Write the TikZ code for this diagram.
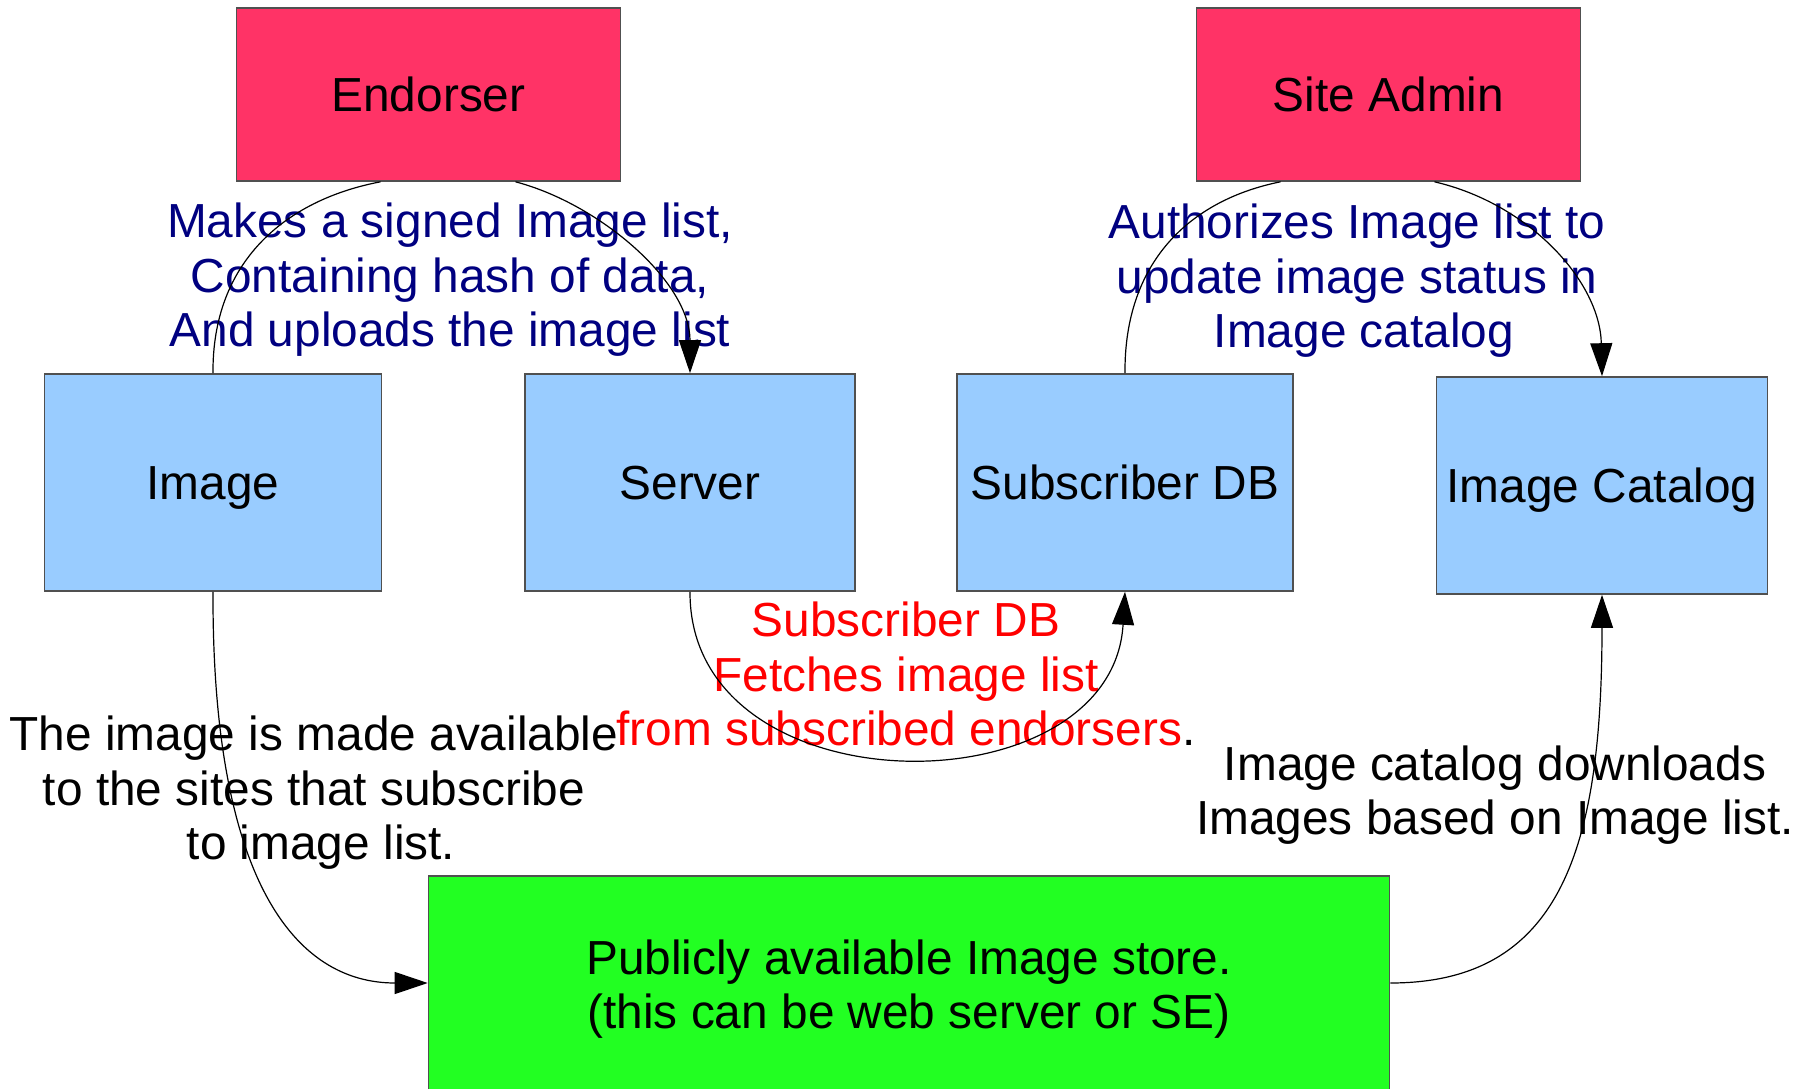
\documentclass[tikz,border=0pt]{standalone}
\usepackage{fontspec}
\setmainfont{Liberation Sans}
\usetikzlibrary{arrows.meta}

\definecolor{actorpink}{HTML}{FF3366}
\definecolor{partblue}{HTML}{99CCFF}
\definecolor{storegreen}{HTML}{22FF22}
\definecolor{edgegray}{HTML}{505050}
\definecolor{notenavy}{HTML}{000080}
\definecolor{notered}{HTML}{FF0000}

\tikzset{
  box/.style={draw=edgegray, line width=1.6pt, inner sep=0pt,
    font=\fontsize{47.8}{54.5}\selectfont, text height=34pt, text depth=0pt},
  actor/.style={box, fill=actorpink, minimum width=384pt, minimum height=173pt},
  part/.style={box, fill=partblue, minimum height=217pt},
  note/.style={inner sep=0pt, align=center, font=\fontsize{47.8}{54.5}\selectfont},
  link/.style={black, line width=1.2pt},
  tip/.style={-{Triangle[length=33pt,width=22pt]}}
}

\begin{document}
\begin{tikzpicture}[x=1pt, y=-1pt]
  \useasboundingbox (0,0) rectangle (1810,1089);

  % actors
  \node[actor] (endorser) at (428.5,94.5) {Endorser};
  \node[actor] (siteadmin) at (1388.5,94.5) {Site Admin};

  % components
  \node[part, minimum width=337pt] (image) at (213,482.5) {Image};
  \node[part, minimum width=330pt] (server) at (690,482.5) {Server};
  \node[part, minimum width=336pt] (subdb) at (1125,482.5) {Subscriber DB};
  \node[part, minimum width=331pt] (catalog) at (1602,485.5) {Image Catalog};

  % public store (runs past the lower edge)
  \node[box, fill=storegreen, minimum width=961pt, minimum height=262pt] (store) at (909,1007) {};
  \node[note] (storetext) at (909,989) {Publicly available Image store.\\(this can be web server or SE)};
  \coordinate (storein) at ([yshift=24pt]store.west);
  \coordinate (storeout) at ([yshift=24pt]store.east);

  % notes
  \node[note, text=notenavy] (endnote) at (450,280) {Makes a signed Image list,\\Containing hash of data,\\And uploads the image list};
  \node[note, text=notenavy] (adminnote) at (1357,281) {Authorizes Image list to\\update image status in\\\hspace*{14pt}Image catalog};
  \node[note, text=notered] (fetchnote) at (906,674) {Subscriber DB\\Fetches image list\\from subscribed endorsers\textcolor{black}{.}};
  \node[note] (availnote) at (314,793) {The image is made available\\to the sites that subscribe\\\hspace*{14pt}to image list.};
  \node[note] (dlnote) at (1495,795) {Image catalog downloads\\Images based on Image list.};

  % connectors
  \draw[link] (image.north) .. controls (212,262) and (285,200) .. ([xshift=-48pt]endorser.south);
  \draw[link, tip] ([xshift=87pt]endorser.south) .. controls (600,204) and (690,282) .. (server.north);
  \draw[link] (subdb.north) .. controls (1124,262) and (1190,200) .. ([xshift=-108pt]siteadmin.south);
  \draw[link, tip] ([xshift=46pt]siteadmin.south) .. controls (1530,204) and (1600,282) .. (catalog.north);
  \draw[link, tip] (server.south) .. controls (689,812) and (1112,812) .. (subdb.south);
  \draw[link, tip] (image.south) .. controls (212,880) and (295,983) .. (storein);
  \draw[link, tip] (storeout) .. controls (1560,983) and (1602,850) .. (catalog.south);
\end{tikzpicture}
\end{document}
